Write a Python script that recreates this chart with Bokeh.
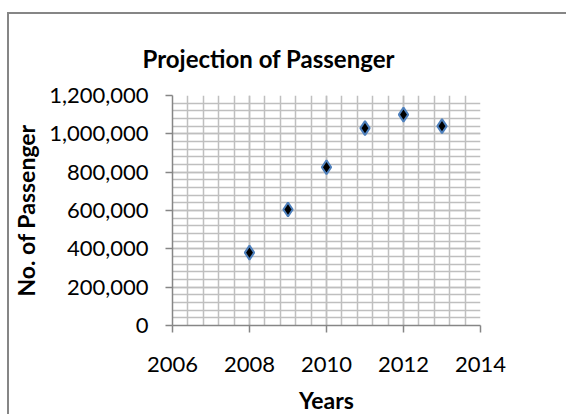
from bokeh.plotting import figure
from bokeh.models import FixedTicker, NumeralTickFormatter, Range1d
from bokeh.embed import file_html
from bokeh.resources import INLINE

years = [2008, 2009, 2010, 2011, 2012, 2013]
passengers = [380000, 605000, 826000, 1030000, 1100000, 1040000]
x_ticks = [2006, 2008, 2010, 2012, 2014]
y_ticks = [0, 200000, 400000, 600000, 800000, 1000000, 1200000]
title_text = "Projection of Passenger"
x_title = "Years"
y_title = "No. of Passenger"

FONT = "Lato"
GRID = "#bfbfbf"
AXIS = "#868686"

p = figure(width=559, height=402, output_backend="svg", toolbar_location=None,
           x_range=Range1d(2006, 2014), y_range=Range1d(0, 1200000),
           min_border_left=155, min_border_right=88, min_border_top=81,
           min_border_bottom=90)
p.margin = (12, 0, 0, 7)
p.styles = {"border-left": "2px solid #868686", "border-top": "2px solid #868686"}

p.title.text = title_text
p.title.text_font = FONT
p.title.text_font_size = "24px"
p.title.text_font_style = "bold"
p.title.text_color = "black"
p.title.align = "left"
p.title.offset = -30
p.title.standoff = 46

p.outline_line_color = None
p.background_fill_color = "white"
p.border_fill_color = "white"

p.xaxis.ticker = FixedTicker(ticks=x_ticks, minor_ticks=[2006 + 0.4 * i for i in range(21)])
p.yaxis.ticker = FixedTicker(ticks=y_ticks, minor_ticks=[40000 * i for i in range(31)])
p.yaxis.formatter = NumeralTickFormatter(format="0,0")

for ax in (p.xaxis, p.yaxis):
    ax.axis_line_color = AXIS
    ax.axis_line_width = 1.5
    ax.major_tick_line_color = AXIS
    ax.major_tick_line_width = 1.5
    ax.major_tick_out = 7
    ax.major_tick_in = 0
    ax.minor_tick_out = 0
    ax.minor_tick_in = 0
    ax.major_label_text_font = FONT
    ax.major_label_text_font_size = "22px"
    ax.major_label_text_color = "black"
    ax.axis_label_text_font = FONT
    ax.axis_label_text_font_size = "23px"
    ax.axis_label_text_font_style = "bold"
    ax.axis_label_text_color = "black"

p.xaxis.axis_label = x_title
p.yaxis.axis_label = y_title
p.xaxis.major_label_standoff = 24
p.yaxis.major_label_standoff = 17
p.xaxis.axis_label_standoff = 11
p.yaxis.axis_label_standoff = 6

for g in (p.xgrid, p.ygrid):
    g.grid_line_color = GRID
    g.grid_line_width = 1.5
    g.minor_grid_line_color = GRID
    g.minor_grid_line_width = 1.5

p.scatter(years, passengers, marker="diamond", size=14, fill_color="black",
          line_color="#4f81bd", line_width=2)

open("out.html", "w").write(file_html(p, INLINE))
